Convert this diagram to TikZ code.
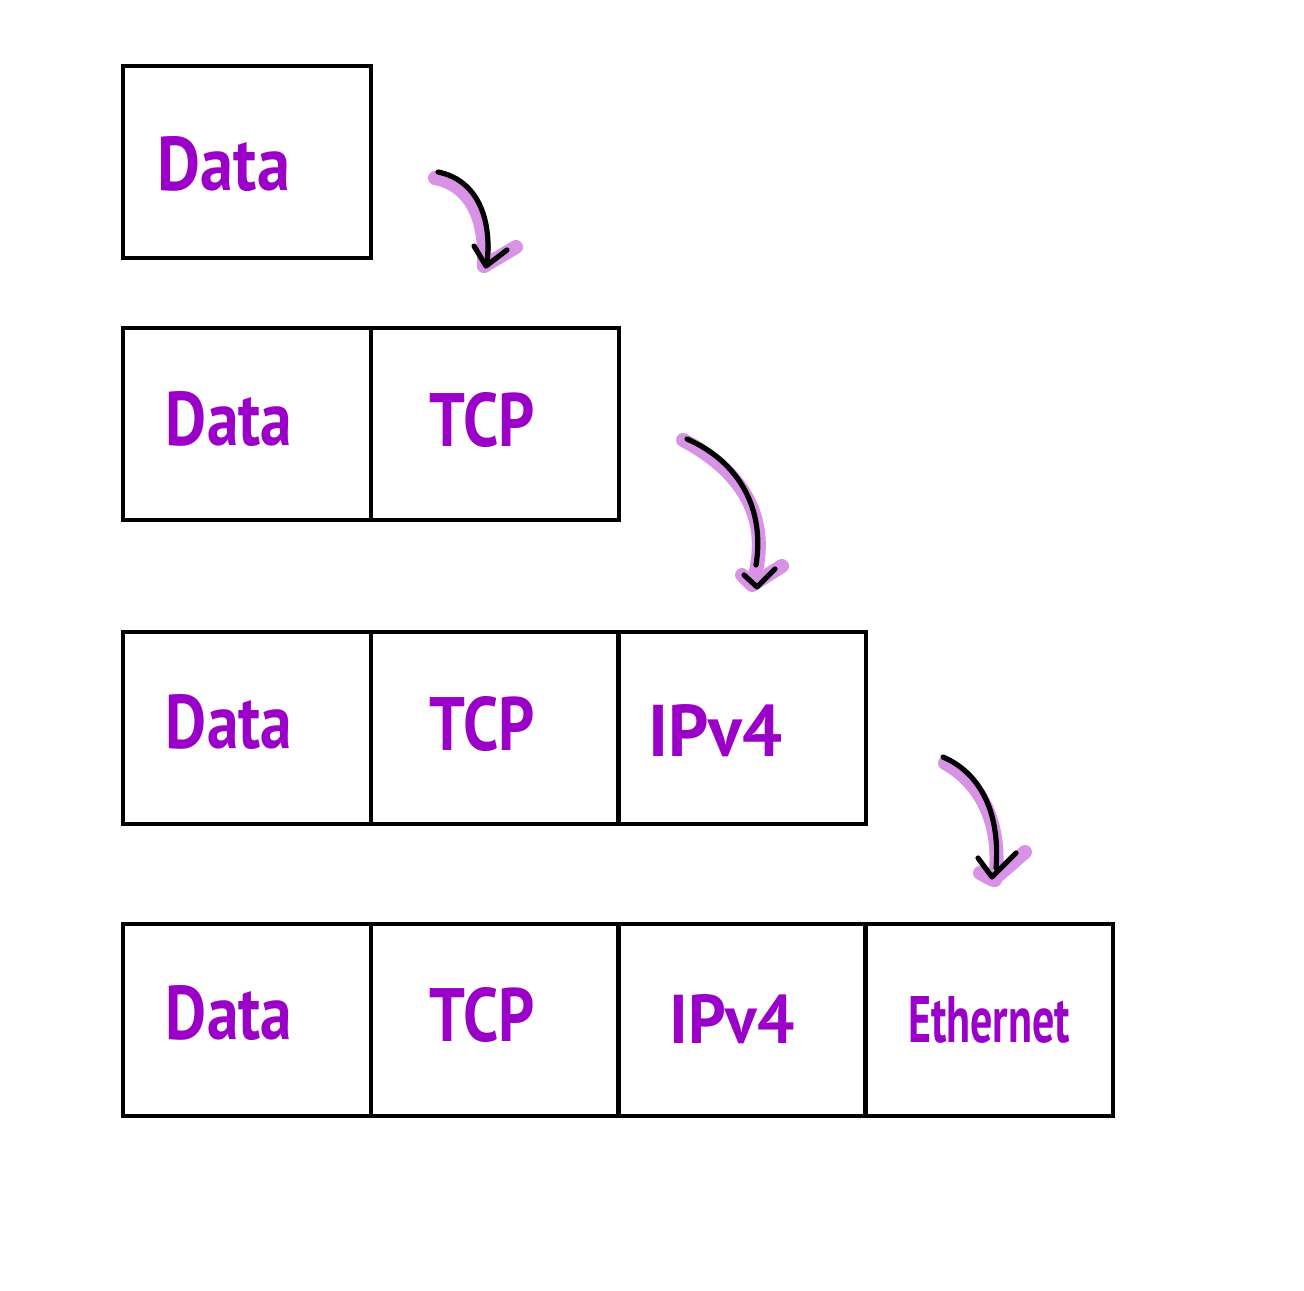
\documentclass[tikz,border=0pt]{standalone}
\usepackage{fontspec}
\usepackage{graphicx}
\setmainfont{PT Sans}
\definecolor{ink}{HTML}{9B00C8}
\definecolor{hilite}{HTML}{D892E6}
\newcommand{\hw}[3]{\resizebox{#1\dimexpr 0.5pt\relax}{#2\dimexpr 0.5pt\relax}{\bfseries #3}}
\tikzset{
  cell/.style={draw=black, line width=2pt, minimum width=124pt, minimum height=96pt, inner sep=0pt, outer sep=0pt, anchor=north west},
  lbl/.style={inner sep=0pt, text=ink, anchor=center},
  glow/.style={draw=hilite, line width=7pt, line cap=round, line join=round},
  pen/.style={draw=black, line width=2.6pt, line cap=round, line join=round}
}
\begin{document}
\begin{tikzpicture}[x=0.5pt,y=-0.5pt]
\useasboundingbox (0,0) rectangle (1304,1290);
% row 1
\node[cell] (r1a) at (123,66) {};
% row 2
\node[cell] (r2a) at (123,328) {};
\node[cell] (r2b) at (371,328) {};
% row 3
\node[cell] (r3a) at (123,632) {};
\node[cell] (r3b) at (371,632) {};
\node[cell] (r3c) at (618,632) {};
% row 4
\node[cell] (r4a) at (123,924) {};
\node[cell] (r4b) at (371,924) {};
\node[cell] (r4c) at (618,924) {};
\node[cell] (r4d) at (865,924) {};
% labels
\node[lbl] (t1a) at (224,164) {\hw{132}{54}{Data}};
\node[lbl] (t2a) at (229,419) {\hw{126}{54}{Data}};
\node[lbl] (t2b) at (482,420) {\hw{105}{54}{TCP}};
\node[lbl] (t3a) at (229,722) {\hw{126}{54}{Data}};
\node[lbl] (t3b) at (482,724) {\hw{105}{54}{TCP}};
\node[lbl] (t3c) at (715,731) {\hw{134}{52}{IPv4}};
\node[lbl] (t4a) at (229,1013) {\hw{126}{54}{Data}};
\node[lbl] (t4b) at (482,1015) {\hw{105}{54}{TCP}};
\node[lbl] (t4c) at (732,1019) {\hw{125}{49}{IPv4}};
\node[lbl] (t4d) at (989,1020) {\hw{162}{46}{Ethernet}};
% arrow 1
\coordinate (a1s) at (438,172);
\coordinate (a1e) at (487,262);
\coordinate (a1l) at (474,246);
\coordinate (a1t) at (486,266);
\coordinate (a1r) at (507,250);
\draw[glow] (435,178) .. controls (475,186) and (486,225) .. (484,266);
\draw[glow] (484,266) -- (516,247);
\draw[pen] (a1s) .. controls (478,180) and (492,220) .. (a1e);
\draw[pen] (a1l) -- (a1t) -- (a1r);
% arrow 2
\coordinate (a2s) at (687,439);
\coordinate (a2e) at (756,565);
\coordinate (a2l) at (744,575);
\coordinate (a2t) at (757,587);
\coordinate (a2r) at (775,569);
\draw[glow] (683,440) .. controls (740,470) and (770,515) .. (755,575);
\draw[glow] (742,575) -- (752,585) -- (782,566);
\draw[pen] (a2s) .. controls (740,462) and (765,510) .. (a2e);
\draw[pen] (a2l) -- (a2t) -- (a2r);
% arrow 3
\coordinate (a3s) at (943,757);
\coordinate (a3e) at (996,868);
\coordinate (a3l) at (978,858);
\coordinate (a3t) at (992,877);
\coordinate (a3r) at (1016,853);
\draw[glow] (945,763) .. controls (985,785) and (1002,830) .. (995,880);
\draw[glow] (980,873) -- (993,880) -- (1025,852);
\draw[pen] (a3s) .. controls (985,775) and (1000,820) .. (a3e);
\draw[pen] (a3l) -- (a3t) -- (a3r);
\end{tikzpicture}
\end{document}
